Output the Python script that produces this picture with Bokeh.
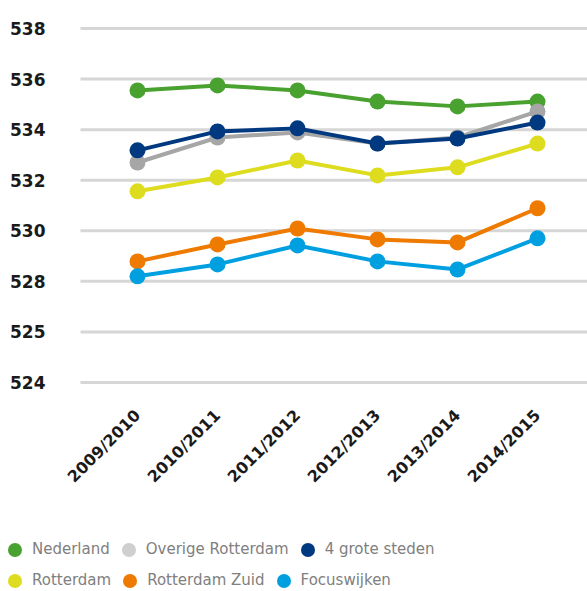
import math
from bokeh.plotting import figure
from bokeh.models import Range1d, FixedTicker, Legend, LegendItem
from bokeh.embed import file_html
from bokeh.resources import INLINE

categories = ["2009/2010", "2010/2011", "2011/2012", "2012/2013", "2013/2014", "2014/2015"]
nederland = [535.55, 535.75, 535.55, 535.11, 534.92, 535.11]
overige_rotterdam = [532.70, 533.69, 533.89, 533.45, 533.69, 534.72]
grote_steden = [533.18, 533.93, 534.05, 533.45, 533.65, 534.28]
rotterdam = [531.56, 532.11, 532.78, 532.19, 532.51, 533.45]
rotterdam_zuid = [528.79, 529.46, 530.09, 529.66, 529.54, 530.89]
focuswijken = [528.20, 528.67, 529.42, 528.79, 528.47, 529.70]
y_ticks = [524, 526, 528, 530, 532, 534, 536, 538]
y_tick_labels = ["524", "525", "528", "530", "532", "534", "536", "538"]

# name, values, line/marker colour, legend marker colour
series = [
    ("Nederland", nederland, "#49a22f", "#49a22f"),
    ("Overige Rotterdam", overige_rotterdam, "#a6a6a6", "#cfcfd0"),
    ("4 grote steden", grote_steden, "#00397f", "#00397f"),
    ("Rotterdam", rotterdam, "#dedc1f", "#dedc1f"),
    ("Rotterdam Zuid", rotterdam_zuid, "#ee7a00", "#ee7a00"),
    ("Focuswijken", focuswijken, "#00a0e0", "#00a0e0"),
]

xs = list(range(len(categories)))

# The frame covers the whole canvas; axes are drawn at fixed positions inside it.
X_START, X_END = -1.7125, 5.625
Y_START, Y_END = 515.735, 539.107
AXIS_X = -0.7125      # where the value axis / grid start
AXIS_Y = 523.486      # where the category axis sits

p = figure(width=587, height=591, output_backend="svg", toolbar_location=None,
           x_range=Range1d(X_START, X_END), y_range=Range1d(Y_START, Y_END),
           min_border_left=0, min_border_right=0, min_border_top=0,
           min_border_bottom=0)
p.title.visible = False
p.outline_line_color = None
p.background_fill_color = "white"
p.border_fill_color = "white"
p.xgrid.grid_line_color = None
p.ygrid.grid_line_color = None

# horizontal grid lines starting at the value axis
p.segment(x0=[AXIS_X] * len(y_ticks), y0=y_ticks, x1=[X_END] * len(y_ticks), y1=y_ticks,
          line_color="#d6d6d6", line_width=3)

p.yaxis.fixed_location = AXIS_X
p.yaxis.ticker = FixedTicker(ticks=y_ticks)
p.yaxis.major_label_overrides = {t: l for t, l in zip(y_ticks, y_tick_labels)}
p.yaxis.axis_line_color = None
p.yaxis.major_tick_line_color = None
p.yaxis.minor_tick_line_color = None
p.yaxis.major_label_standoff = 29
p.yaxis.major_label_text_font = "DejaVu Sans"
p.yaxis.major_label_text_font_style = "bold"
p.yaxis.major_label_text_font_size = "17px"
p.yaxis.major_label_text_color = "#1a1a1a"

p.xaxis.fixed_location = AXIS_Y
p.xaxis.ticker = FixedTicker(ticks=xs)
p.xaxis.major_label_overrides = {i: c for i, c in zip(xs, categories)}
p.xaxis.major_label_orientation = math.pi / 4
p.xaxis.axis_line_color = None
p.xaxis.major_tick_line_color = None
p.xaxis.minor_tick_line_color = None
p.xaxis.major_label_standoff = 11
p.xaxis.major_label_text_font = "DejaVu Sans"
p.xaxis.major_label_text_font_style = "bold"
p.xaxis.major_label_text_font_size = "16px"
p.xaxis.major_label_text_color = "#1a1a1a"

for name, vals, color, _ in series:
    p.line(xs, vals, line_color=color, line_width=4)
    p.scatter(xs, vals, size=16, fill_color=color, line_color=None)

items = []
for name, vals, _, lcolor in series:
    r = p.scatter(xs, vals, size=16, fill_color=lcolor, line_color=None, visible=False)
    items.append(LegendItem(label=name, renderers=[r]))

for row, yoff in ((items[:3], 24.5), (items[3:], -6.5)):
    lg = Legend(items=row, orientation="horizontal", location=(-3, yoff),
                label_text_font="DejaVu Sans", label_text_font_size="15px",
                label_text_color="#808080", glyph_width=35, glyph_height=35,
                label_standoff=0, spacing=1, padding=0, margin=0,
                border_line_color=None, background_fill_alpha=0)
    p.add_layout(lg)

open("out.html", "w").write(file_html(p, INLINE))
